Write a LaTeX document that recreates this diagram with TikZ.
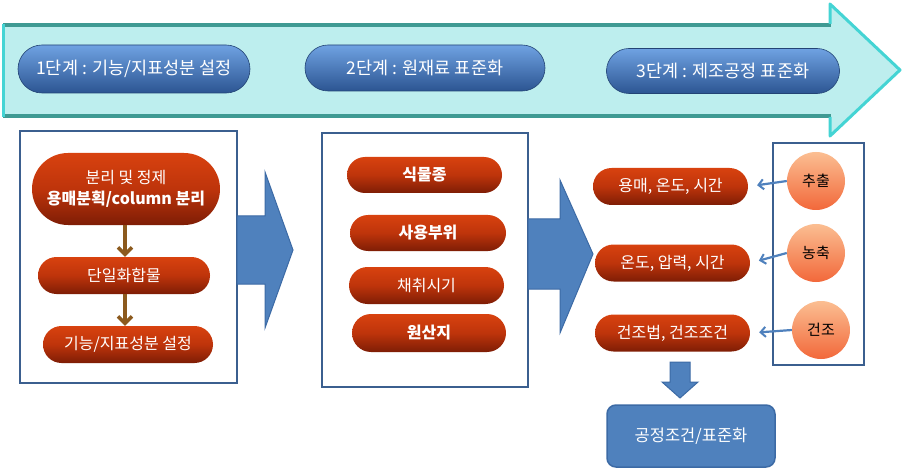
\documentclass[tikz,border=0pt]{standalone}
\usepackage{fontspec}
\setmainfont{Noto Sans CJK KR}
\usetikzlibrary{shapes.misc,arrows.meta,calc}
\definecolor{arrowfill}{HTML}{BDEEEE}
\definecolor{tealedge}{HTML}{3F9A93}
\definecolor{cyanedge}{HTML}{44D4D4}
\definecolor{boxedge}{HTML}{3B5F8F}
\definecolor{bigblue}{HTML}{4F81BD}
\definecolor{bigblueedge}{HTML}{3C6AA5}
\definecolor{brownarrow}{HTML}{8C5A1E}
\definecolor{redtop}{HTML}{D8420F}
\definecolor{redmid}{HTML}{BE340B}
\definecolor{redbot}{HTML}{7E1D05}
\definecolor{bluetop}{HTML}{6FA2E2}
\definecolor{bluebot}{HTML}{2C5592}
\definecolor{orangetop}{HTML}{FBBE92}
\definecolor{orangebot}{HTML}{F2683A}
\tikzset{
  stagepill/.style={rounded rectangle, draw=bluebot!80!black, line width=0.6pt,
    top color=bluetop, bottom color=bluebot, text=white, inner sep=0pt,
    font=\fontsize{17.5}{20}\selectfont},
  redpill/.style={rounded rectangle, draw=none, top color=redtop, bottom color=redbot,
    middle color=redmid, text=white, inner sep=0pt, font=\fontsize{16}{19}\selectfont},
  groupbox/.style={draw=boxedge, line width=2pt, fill=white, inner sep=0pt},
  orangeball/.style={circle, draw=none, top color=orangetop, bottom color=orangebot,
    text=black, inner sep=0pt, minimum size=58pt, font=\fontsize{15}{18}\selectfont},
  brownlink/.style={draw=brownarrow, line width=3.5pt,
    -{Straight Barb[length=7pt,width=14pt,line width=3.5pt]}},
  bluelink/.style={draw=bigblue, line width=2.2pt,
    -{Straight Barb[length=5pt,width=10pt,line width=2pt]}, shorten >=9pt},
  bigarrow/.style={fill=bigblue, draw=bigblueedge, line width=1pt},
}
\begin{document}
\begin{tikzpicture}[x=1pt,y=-1pt]
\useasboundingbox (0,0) rectangle (903,468);
\fill[white] (0,0) rectangle (903,468);
% big top arrow
\fill[arrowfill] (3,24) -- (830,24) -- (830,4) -- (900,70) -- (830,136) -- (830,117) -- (3,117) -- cycle;
\draw[tealedge, line width=4pt] (3,25) -- (831,25);
\draw[tealedge, line width=4pt] (3,116) -- (831,116);
\draw[cyanedge, line width=3pt] (3,24) -- (3,117);
\draw[cyanedge, line width=3pt, line join=round] (830,24) -- (830,4) -- (900,70) -- (830,136) -- (830,117);
% stage pills
\node[stagepill, minimum width=232pt, minimum height=48pt] (s1) at (134,69) {1단계 : 기능/지표성분 설정};
\node[stagepill, minimum width=240pt, minimum height=46pt] (s2) at (425,68) {2단계 : 원재료 표준화};
\node[stagepill, minimum width=233pt, minimum height=45pt] (s3) at (723,71) {3단계 : 제조공정 표준화};
% left group
\node[groupbox, minimum width=217pt, minimum height=252pt] (g1) at (128.5,257) {};
\node[redpill, minimum width=188pt, minimum height=72pt, align=center, font=\fontsize{16}{21}\selectfont] (r1) at (126,189) {분리 및 정제\\\textbf{용매분획/column 분리}};
\node[redpill, minimum width=172pt, minimum height=37pt] (r2) at (124,275.5) {단일화합물};
\node[redpill, minimum width=170pt, minimum height=37pt] (r3) at (128,344.5) {기능/지표성분 설정};
\coordinate (b1) at ($(r1.south)+(-1,0)$);
\coordinate (b2) at ($(r2.south)+(1,0)$);
\draw[brownlink] (b1) -- (b1 |- r2.north);
\draw[brownlink] (b2) -- (b2 |- r3.north);
% big blue arrow 1
\path[bigarrow] (237,216) -- (265,216) -- (265,172) -- (293,250) -- (265,328) -- (265,284) -- (237,284) -- cycle;
% middle group
\node[groupbox, minimum width=206pt, minimum height=254pt] (g2) at (425,260) {};
\node[redpill, minimum width=155pt, minimum height=36pt, font=\fontsize{16}{19}\selectfont\bfseries] (m1) at (424.5,175) {식물종};
\node[redpill, minimum width=156pt, minimum height=36pt, font=\fontsize{16}{19}\selectfont\bfseries] (m2) at (428,233) {사용부위};
\node[redpill, minimum width=155pt, minimum height=37pt] (m3) at (426.5,285.5) {채취시기};
\node[redpill, minimum width=154pt, minimum height=38pt, font=\fontsize{16}{19}\selectfont\bfseries] (m4) at (429,333) {원산지};
% big blue arrow 2
\path[bigarrow] (528,219) -- (560,219) -- (560,180) -- (593,254) -- (560,333) -- (560,289) -- (528,289) -- cycle;
% right pills
\node[redpill, minimum width=155pt, minimum height=37pt] (p1) at (670.5,186.5) {용매, 온도, 시간};
\node[redpill, minimum width=155pt, minimum height=37pt] (p2) at (672.5,263) {온도, 압력, 시간};
\node[redpill, minimum width=155pt, minimum height=37pt] (p3) at (672.5,333) {건조법, 건조조건};
% right group
\node[groupbox, minimum width=91pt, minimum height=222pt] (g3) at (818.5,254) {};
\node[orangeball] (c1) at (816,181) {추출};
\node[orangeball] (c2) at (816,253) {농축};
\node[orangeball] (c3) at (821,330) {건조};
\draw[bluelink] (c1.west) -- (p1.east);
\draw[bluelink] (c2.west) -- (p2.east);
\draw[bluelink] (c3.west) -- (p3.east);
% down arrow
\path[bigarrow] (670,362) -- (690,362) -- (690,382) -- (698,382) -- (680,398) -- (662,382) -- (670,382) -- cycle;
% result box
\node[draw=bigblueedge, line width=1.5pt, fill=bigblue, rounded corners=9pt, text=white,
  minimum width=168pt, minimum height=62pt, inner sep=0pt, font=\fontsize{16.5}{19}\selectfont] (res) at (691,436) {공정조건/표준화};
\end{tikzpicture}
\end{document}
